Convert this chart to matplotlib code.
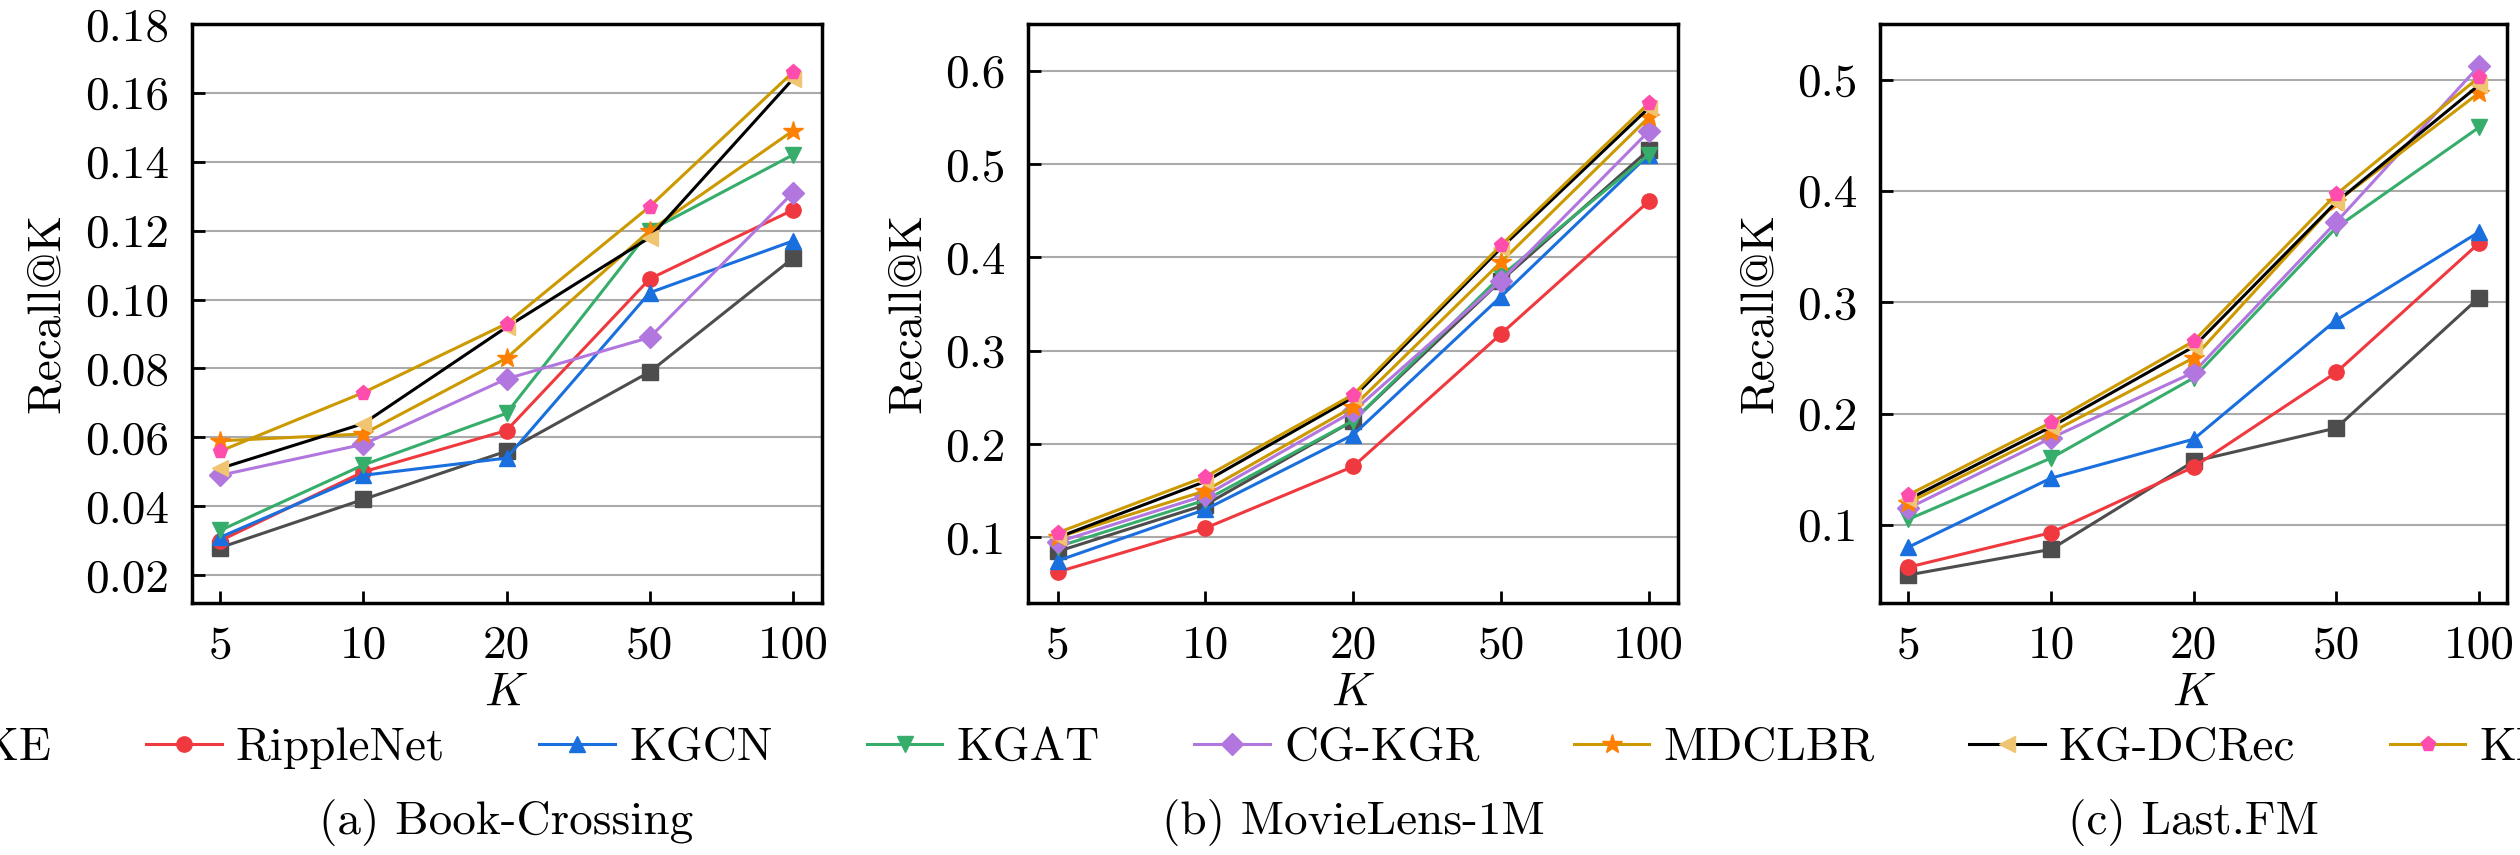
import numpy as np
import matplotlib
matplotlib.use('Agg')
import matplotlib.pyplot as plt

plt.rcParams['font.family'] = 'serif'
plt.rcParams['font.serif'] = ['cmr10']
plt.rcParams['mathtext.fontset'] = 'cm'
plt.rcParams['axes.formatter.use_mathtext'] = True
plt.rcParams['font.size'] = 34

ks = ['5', '10', '20', '50', '100']
models = ['CKE', 'RippleNet', 'KGCN', 'KGAT', 'CG-KGR', 'MDCLBR', 'KG-DCRec', 'KE-HNS']

book = {
    'CKE':       [0.028, 0.042, 0.056, 0.079, 0.112],
    'RippleNet': [0.030, 0.050, 0.062, 0.106, 0.126],
    'KGCN':      [0.031, 0.049, 0.054, 0.102, 0.117],
    'KGAT':      [0.033, 0.052, 0.067, 0.120, 0.142],
    'CG-KGR':    [0.049, 0.058, 0.077, 0.089, 0.131],
    'MDCLBR':    [0.059, 0.061, 0.083, 0.120, 0.149],
    'KG-DCRec':  [0.051, 0.064, 0.092, 0.118, 0.164],
    'KE-HNS':    [0.056, 0.073, 0.093, 0.127, 0.166],
}
movie = {
    'CKE':       [0.085, 0.135, 0.225, 0.375, 0.515],
    'RippleNet': [0.063, 0.110, 0.176, 0.318, 0.460],
    'KGCN':      [0.075, 0.130, 0.210, 0.358, 0.510],
    'KGAT':      [0.090, 0.140, 0.225, 0.380, 0.510],
    'CG-KGR':    [0.095, 0.145, 0.235, 0.375, 0.535],
    'MDCLBR':    [0.100, 0.150, 0.240, 0.395, 0.550],
    'KG-DCRec':  [0.100, 0.160, 0.250, 0.410, 0.560],
    'KE-HNS':    [0.105, 0.165, 0.253, 0.413, 0.565],
}
lastfm = {
    'CKE':       [0.055, 0.078, 0.157, 0.187, 0.304],
    'RippleNet': [0.062, 0.093, 0.152, 0.237, 0.353],
    'KGCN':      [0.080, 0.142, 0.177, 0.284, 0.363],
    'KGAT':      [0.105, 0.160, 0.232, 0.367, 0.457],
    'CG-KGR':    [0.115, 0.178, 0.237, 0.372, 0.512],
    'MDCLBR':    [0.120, 0.183, 0.250, 0.390, 0.488],
    'KG-DCRec':  [0.123, 0.188, 0.260, 0.390, 0.495],
    'KE-HNS':    [0.127, 0.192, 0.265, 0.397, 0.502],
}

# (line colour, marker colour, marker)
styles = {
    'CKE':       ('#4d4d4d', '#4d4d4d', 's'),
    'RippleNet': ('#f0393f', '#f0393f', 'o'),
    'KGCN':      ('#1a6fdf', '#1a6fdf', '^'),
    'KGAT':      ('#37ad6b', '#37ad6b', 'v'),
    'CG-KGR':    ('#b177de', '#b177de', 'D'),
    'MDCLBR':    ('#cc9900', '#ff7f00', '*'),
    'KG-DCRec':  ('#000000', '#f0c571', '<'),
    'KE-HNS':    ('#cc9900', '#ff4dae', 'p'),
}

panels = [
    (book, '(a) Book-Crossing', (0.012, 0.18), np.arange(0.02, 0.181, 0.02), '{:.2f}'),
    (movie, '(b) MovieLens-1M', (0.03, 0.65), np.arange(0.1, 0.61, 0.1), '{:.1f}'),
    (lastfm, '(c) Last.FM', (0.03, 0.55), np.arange(0.1, 0.51, 0.1), '{:.1f}'),
]
lefts = [0.076, 0.408, 0.746]
widths = [0.250, 0.258, 0.249]

fig = plt.figure(figsize=(25.2, 8.55), dpi=100)
x = np.arange(len(ks))
for i, (data, cap, ylim, yt, fmt) in enumerate(panels):
    ax = fig.add_axes([lefts[i], 0.295, widths[i], 0.677])
    for m in models:
        lc, mc, mk = styles[m]
        ax.plot(x, data[m], color=lc, lw=2.2, marker=mk, mfc=mc, mec=mc,
                ms=15 if mk == '*' else 11, label=m)
    ax.set_xticks(x)
    ax.set_xticklabels(ks)
    ax.set_xlim(-0.2, 4.2)
    ax.set_ylim(*ylim)
    ax.set_yticks(yt)
    ax.set_yticklabels([fmt.format(v) for v in yt])
    ax.yaxis.grid(True, color='#aaaaaa', lw=1.5)
    ax.set_axisbelow(True)
    ax.tick_params(direction='in', length=9, width=2, pad=16)
    for s in ax.spines.values():
        s.set_linewidth(2.5)
    ax.set_xlabel('$K$', labelpad=4)
    ax.set_ylabel('Recall@K', labelpad=12)
    fig.text(lefts[i] + widths[i] / 2, 0.025, cap, ha='center')
    if i == 0:
        handles, labels = ax.get_legend_handles_labels()

fig.legend(handles, labels, loc='center', bbox_to_anchor=(0.5, 0.125), ncol=8,
           frameon=False, handlelength=1.6, columnspacing=2.0, handletextpad=0.3)
fig.savefig('out.png', dpi=100)
